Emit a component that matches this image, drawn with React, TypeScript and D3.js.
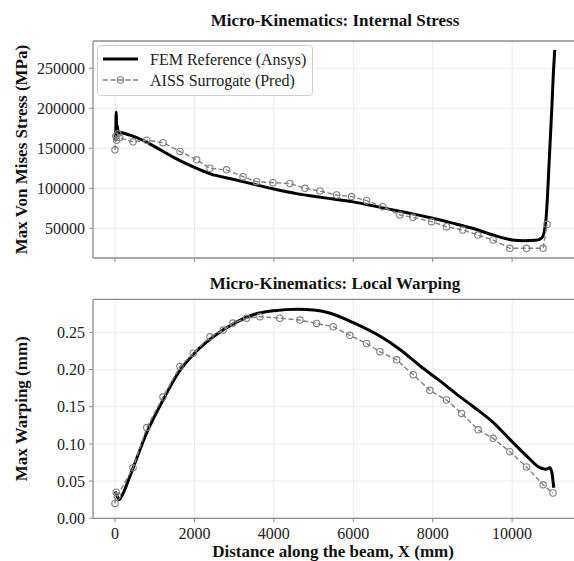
import React from 'react';
import * as d3 from 'd3';

// ---------- data ----------
const femStressX = [0, 15, 30, 45, 60, 80, 120, 200, 400, 700, 1000, 1500, 2000, 2400, 3000, 3500, 4000, 4600, 5000, 5500, 6000, 6500, 7000, 7500, 8000, 8500, 9000, 9500, 10000, 10300, 10600, 10750, 10850, 10950, 11000, 11040, 11075];
const femStressY = [168000, 160000, 195000, 165000, 178000, 168000, 170000, 169000, 166000, 160000, 152000, 138000, 126000, 118000, 111000, 105000, 99000, 93000, 90000, 86500, 83000, 78000, 73000, 68000, 62500, 56500, 50000, 42000, 35500, 34500, 35000, 38000, 60000, 150000, 200000, 245000, 273000];

const surStressX = [0, 20, 40, 70, 120, 453, 798, 1208, 1636, 2056, 2391, 2811, 3222, 3566, 3977, 4405, 4782, 5160, 5580, 5958, 6335, 6746, 7174, 7500, 7971, 8349, 8759, 9137, 9522, 9942, 10363, 10780, 10880];
const surStressY = [148000, 165000, 160000, 168000, 163000, 158000, 160000, 157000, 146000, 135500, 125000, 123000, 114500, 108300, 107000, 106000, 100000, 96600, 91600, 89600, 84500, 77000, 66600, 63700, 58300, 52000, 47900, 41600, 35400, 25000, 25000, 25000, 55000];

const femWarpX = [0, 50, 100, 200, 400, 800, 1200, 1600, 2000, 2500, 3000, 3500, 4000, 4600, 5000, 5400, 6000, 6700, 7200, 7700, 8200, 8600, 9000, 9500, 10000, 10400, 10700, 10850, 10950, 11000, 11030, 11050];
const femWarpY = [0.036, 0.03, 0.025, 0.033, 0.06, 0.115, 0.158, 0.196, 0.222, 0.245, 0.262, 0.274, 0.279, 0.281, 0.280, 0.276, 0.263, 0.244, 0.226, 0.204, 0.184, 0.167, 0.151, 0.130, 0.103, 0.082, 0.068, 0.066, 0.068, 0.062, 0.050, 0.041];

const surWarpX = [0, 30, 60, 453, 800, 1208, 1636, 1970, 2391, 2727, 2970, 3314, 3650, 4150, 4656, 5075, 5495, 5914, 6335, 6670, 7093, 7510, 7930, 8349, 8726, 9145, 9522, 9942, 10363, 10780, 11030];
const surWarpY = [0.02, 0.035, 0.03, 0.068, 0.122, 0.163, 0.204, 0.222, 0.244, 0.253, 0.2625, 0.269, 0.271, 0.269, 0.2665, 0.262, 0.2575, 0.246, 0.235, 0.224, 0.213, 0.193, 0.172, 0.159, 0.141, 0.119, 0.1075, 0.0895, 0.069, 0.045, 0.034];

const xTicks = [0, 2000, 4000, 6000, 8000, 10000];
const stressTicks = [50000, 100000, 150000, 200000, 250000];
const warpTicks = [0, 0.05, 0.1, 0.15, 0.2, 0.25];

const legendLabels = ['FEM Reference (Ansys)', 'AISS Surrogate (Pred)'];
const titles = ['Micro-Kinematics: Internal Stress', 'Micro-Kinematics: Local Warping'];
const yLabels = ['Max Von Mises Stress (MPa)', 'Max Warping (mm)'];
const xLabel = 'Distance along the beam, X (mm)';

const FONT = '"Liberation Serif", "Times New Roman", Times, serif';
const SPINE = '#8c8c8c';
const GRID = '#ececec';
const SUR = '#808080';
const TICK_FS = 16;
const BOLD_FS = 17;

type Panel = {
  top: number; bottom: number; domain: [number, number]; ticks: number[]; fmt: (v: number) => string;
  femX: number[]; femY: number[]; surX: number[]; surY: number[]; title: string; titleY: number; ylabel: string; legend: boolean; xlabels: boolean;
};

export default function App() {
  const W = 574, H = 561;
  const left = 93, right = 577;
  const x = d3.scaleLinear().domain([-554, 11634]).range([left, right]);

  const panels: Panel[] = [
    { top: 41, bottom: 258, domain: [12900, 284000], ticks: stressTicks, fmt: d3.format('d'),
      femX: femStressX, femY: femStressY, surX: surStressX, surY: surStressY, title: titles[0], titleY: 26, ylabel: yLabels[0], legend: true, xlabels: false },
    { top: 299.3, bottom: 518.3, domain: [0, 0.2944], ticks: warpTicks, fmt: d3.format('.2f'),
      femX: femWarpX, femY: femWarpY, surX: surWarpX, surY: surWarpY, title: titles[1], titleY: 289, ylabel: yLabels[1], legend: false, xlabels: true },
  ];

  const textStyle = { fontFamily: FONT };

  return (
    <svg width={W} height={H} style={{ position: 'absolute', left: 0, top: 0, background: '#fff', fontFamily: FONT }}>
      <rect width={W} height={H} fill="#fff" />
      {panels.map((p, pi) => {
        const y = d3.scaleLinear().domain(p.domain).range([p.bottom, p.top]);
        const lineGen = d3.line<[number, number]>().x(d => x(d[0])).y(d => y(d[1]));
        const smoothGen = d3.line<[number, number]>().x(d => x(d[0])).y(d => y(d[1])).curve(d3.curveMonotoneX);
        const femPath = smoothGen(p.femX.map((v, i) => [v, p.femY[i]] as [number, number])) || '';
        const surPts = p.surX.map((v, i) => [v, p.surY[i]] as [number, number]);
        const surPath = lineGen(surPts) || '';
        const cy = (p.top + p.bottom) / 2;
        return (
          <g key={pi}>
            <defs>
              <clipPath id={`clip${pi}`}>
                <rect x={left} y={p.top} width={right - left} height={p.bottom - p.top} />
              </clipPath>
            </defs>
            {xTicks.map(t => (
              <line key={'gx' + t} x1={x(t)} x2={x(t)} y1={p.top} y2={p.bottom} stroke={GRID} strokeWidth={1} />
            ))}
            {p.ticks.map(t => (
              <line key={'gy' + t} x1={left} x2={right} y1={y(t)} y2={y(t)} stroke={GRID} strokeWidth={1} />
            ))}
            <g clipPath={`url(#clip${pi})`}>
              <path d={femPath} fill="none" stroke="#000" strokeWidth={3} strokeLinejoin="round" />
              <path d={surPath} fill="none" stroke={SUR} strokeWidth={1.4} strokeDasharray="5,2.5" />
              {surPts.map((d, i) => (
                <circle key={i} cx={x(d[0])} cy={y(d[1])} r={3.2} fill="none" stroke={SUR} strokeWidth={1.1} />
              ))}
            </g>
            <line x1={left} x2={left} y1={p.top} y2={p.bottom} stroke={SPINE} strokeWidth={1.3} />
            <line x1={left} x2={right} y1={p.bottom} y2={p.bottom} stroke={SPINE} strokeWidth={1.3} />
            <line x1={left} x2={right} y1={p.top} y2={p.top} stroke={SPINE} strokeWidth={1.3} />
            {xTicks.map(t => (
              <g key={'tx' + t}>
                <line x1={x(t)} x2={x(t)} y1={p.bottom} y2={p.bottom + 4} stroke={SPINE} strokeWidth={1} />
                {p.xlabels && (
                  <text style={textStyle} x={x(t)} y={p.bottom + 20.5} textAnchor="middle" fontSize={TICK_FS} fill="#222">{t}</text>
                )}
              </g>
            ))}
            {p.ticks.map(t => (
              <g key={'ty' + t}>
                <line x1={left - 4} x2={left} y1={y(t)} y2={y(t)} stroke={SPINE} strokeWidth={1} />
                <text style={textStyle} x={left - 8} y={y(t)} dy="0.35em" textAnchor="end" fontSize={TICK_FS} fill="#222">{p.fmt(t)}</text>
              </g>
            ))}
            <text style={textStyle} x={(left + right) / 2} y={p.titleY} textAnchor="middle" fontSize={BOLD_FS} fontWeight="bold" fill="#111">{p.title}</text>
            <text style={textStyle} transform={`translate(27,${cy}) rotate(-90)`} textAnchor="middle" fontSize={BOLD_FS} fontWeight="bold" fill="#111">{p.ylabel}</text>
            {p.legend && (
              <g>
                <rect x={97.5} y={45.5} width={215} height={50} rx={3} fill="#fff" fillOpacity={0.85} stroke="#d0d0d0" strokeWidth={1} />
                <line x1={103} x2={138} y1={59} y2={59} stroke="#000" strokeWidth={3} />
                <text style={textStyle} x={150} y={59} dy="0.35em" fontSize={TICK_FS} fill="#222">{legendLabels[0]}</text>
                <line x1={103} x2={138} y1={80} y2={80} stroke={SUR} strokeWidth={1.4} strokeDasharray="5,2.5" />
                <circle cx={120.5} cy={80} r={3.2} fill="none" stroke={SUR} strokeWidth={1.1} />
                <text style={textStyle} x={150} y={80} dy="0.35em" fontSize={TICK_FS} fill="#222">{legendLabels[1]}</text>
              </g>
            )}
          </g>
        );
      })}
      <text style={textStyle} x={(left + right) / 2 - 2} y={557} textAnchor="middle" fontSize={BOLD_FS} fontWeight="bold" fill="#111">{xLabel}</text>
    </svg>
  );
}
